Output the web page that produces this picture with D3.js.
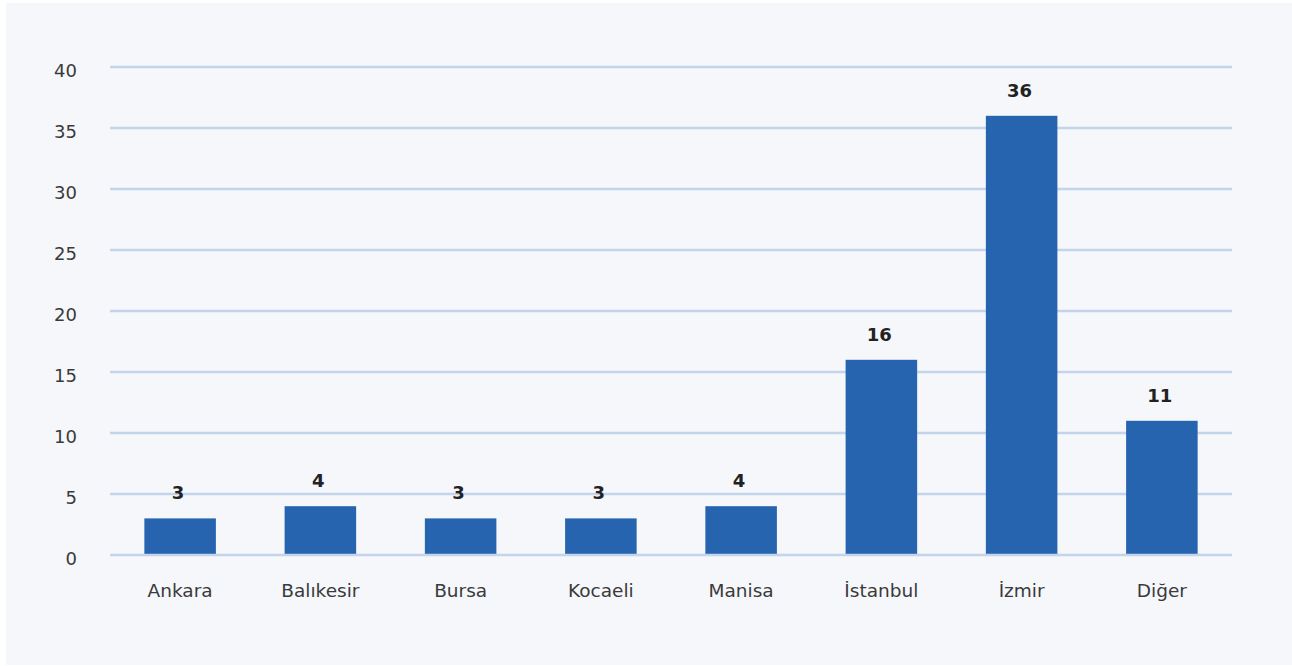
<!DOCTYPE html>
<html>
<head>
<meta charset="utf-8">
<script src="https://cdn.jsdelivr.net/npm/d3@7"></script>
<style>
  html, body { margin: 0; padding: 0; background: #ffffff; }
  svg { display: block; }
  text { font-family: "DejaVu Sans", "Noto Sans", sans-serif; }
</style>
</head>
<body>
<svg id="chart" width="1292" height="666"></svg>
<script>
const categories = ["Ankara", "Balıkesir", "Bursa", "Kocaeli", "Manisa", "İstanbul", "İzmir", "Diğer"];
const values = [3, 4, 3, 3, 4, 16, 36, 11];
const yTicks = [0, 5, 10, 15, 20, 25, 30, 35, 40];

const svg = d3.select("#chart");
const W = 1292, H = 666;
const plot = { left: 110, right: 1232, top: 67, bottom: 555 };
const labelFont = "'DejaVu Sans', sans-serif";

// panel background
svg.append("rect")
  .attr("x", 6).attr("y", 3)
  .attr("width", W - 6).attr("height", 662)
  .attr("fill", "#f5f7fb");

const x = d3.scaleBand()
  .domain(categories)
  .range([plot.left, plot.right])
  .paddingInner(0.49)
  .paddingOuter(0.245);

const y = d3.scaleLinear()
  .domain([0, 40])
  .range([plot.bottom, plot.top]);

// horizontal grid lines
svg.append("g")
  .selectAll("line")
  .data(yTicks)
  .join("line")
  .attr("x1", plot.left).attr("x2", plot.right)
  .attr("y1", d => y(d)).attr("y2", d => y(d))
  .attr("stroke", "#c4d4ea")
  .attr("stroke-width", 2.5);

// y axis tick labels
const yAxis = d3.axisLeft(y).tickValues(yTicks).tickSize(0).tickPadding(0);
const gy = svg.append("g")
  .attr("transform", `translate(${77},0)`)
  .call(yAxis);
gy.select(".domain").remove();
gy.selectAll("text")
  .attr("font-size", 18)
  .attr("fill", "#3a3a3a")
  .attr("dy", "0.5em")
  .style("font-family", labelFont);

// bars
svg.append("g")
  .selectAll("rect")
  .data(values)
  .join("rect")
  .attr("x", (d, i) => x(categories[i]))
  .attr("width", x.bandwidth())
  .attr("y", d => y(d))
  .attr("height", d => y(0) - y(d) - 1.2)
  .attr("fill", "#2764b0");

// value labels
svg.append("g")
  .selectAll("text")
  .data(values)
  .join("text")
  .attr("x", (d, i) => x(categories[i]) + x.bandwidth() / 2 - 2)
  .attr("y", d => y(d) - 19)
  .attr("text-anchor", "middle")
  .attr("font-size", 18)
  .attr("font-weight", 700)
  .attr("fill", "#222222")
  .style("font-family", labelFont)
  .text(d => d);

// category axis labels
const xAxis = d3.axisBottom(x).tickSize(0).tickPadding(0);
const gx = svg.append("g")
  .attr("transform", `translate(0,${597})`)
  .call(xAxis);
gx.select(".domain").remove();
gx.selectAll("text")
  .attr("font-size", 18.5)
  .attr("fill", "#3a3a3a")
  .attr("dy", 0)
  .style("font-family", labelFont);
</script>
</body>
</html>
